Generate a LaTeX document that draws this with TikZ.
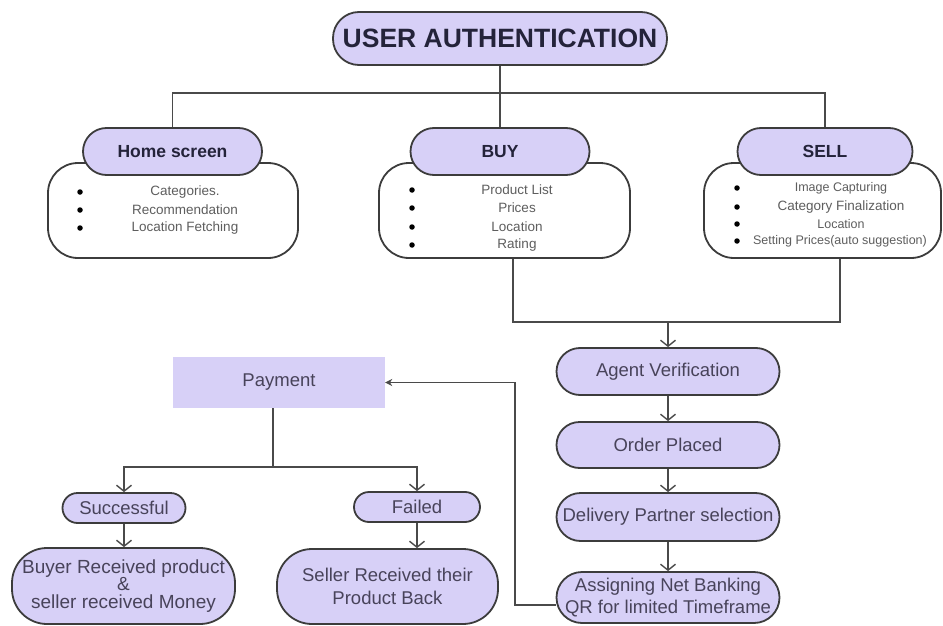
\documentclass[tikz,border=0pt]{standalone}
\usepackage{fontspec}
\setmainfont{Liberation Sans}
\usetikzlibrary{arrows.meta}

\definecolor{lav}{HTML}{D7D0F7}
\definecolor{edge}{HTML}{3C3C3C}
\definecolor{wire}{HTML}{4A4A4A}
\definecolor{headtxt}{HTML}{24233A}
\definecolor{steptxt}{HTML}{48435A}
\definecolor{itemtxt}{HTML}{5E5E5E}

\tikzset{
  pill/.style={draw=edge, line width=1.8pt, fill=lav, inner sep=0pt,
               align=center, rounded corners=#1},
  panel/.style={draw=edge, line width=1.8pt, fill=white, inner sep=0pt,
                rounded corners=30pt},
  plainbox/.style={fill=lav, inner sep=0pt},
  headfont/.style={font=\fontsize{17.5}{20}\selectfont\bfseries, text=headtxt},
  stepfont/.style={font=\fontsize{18.5}{22.5}\selectfont, text=steptxt},
  itemtxtstyle/.style={font=\fontsize{#1}{16}\selectfont, text=itemtxt, inner sep=0pt},
  bulletdot/.style={circle, fill=black, minimum size=5.5pt, inner sep=0pt},
  wireline/.style={draw=wire, line width=1.6pt},
  arr/.style={wireline, -{Straight Barb[length=6pt,width=15pt,line width=1.4pt]}},
  feedarr/.style={wireline, -{Stealth[length=7pt,width=7pt]}},
}

\begin{document}
\begin{tikzpicture}[x=1pt,y=-1pt]
\useasboundingbox (0,0) rectangle (943,626);

% ---------- top level ----------
\node[pill=26pt, minimum width=334pt, minimum height=53pt,
      font=\fontsize{26.5}{30}\selectfont\bfseries, text=headtxt]
  (auth) at (500,38.5) {USER AUTHENTICATION};

\coordinate (hub) at (500,93);

% ---------- three panels ----------
\node[panel, minimum width=250pt, minimum height=95pt] (homebody) at (173,210.5) {};
\node[panel, minimum width=251pt, minimum height=95pt] (buybody)  at (504.5,210.5) {};
\node[panel, minimum width=237pt, minimum height=95pt] (sellbody) at (822.5,210.5) {};

% panel contents
\node[bulletdot] (hb1) at (80,192) {};
\node[bulletdot] (hb2) at (80,210) {};
\node[bulletdot] (hb3) at (80,228) {};
\node[itemtxtstyle=13.5] (h1) at (185,192) {Categories.};
\node[itemtxtstyle=13.5] (h2) at (185,210) {Recommendation};
\node[itemtxtstyle=13.5] (h3) at (185,228) {Location Fetching};

\node[bulletdot] (bb1) at (412,190) {};
\node[bulletdot] (bb2) at (412,208) {};
\node[bulletdot] (bb3) at (412,227) {};
\node[bulletdot] (bb4) at (412,245) {};
\node[itemtxtstyle=13.5] (b1) at (517,190) {Product List};
\node[itemtxtstyle=13.5] (b2) at (517,208) {Prices};
\node[itemtxtstyle=13.5] (b3) at (517,227) {Location};
\node[itemtxtstyle=13.5] (b4) at (517,245) {Rating};

\node[bulletdot] (sb1) at (737,188) {};
\node[bulletdot] (sb2) at (737,207) {};
\node[bulletdot] (sb3) at (737,224) {};
\node[bulletdot] (sb4) at (737,241) {};
\node[itemtxtstyle=12.5] (s1) at (841,188) {Image Capturing};
\node[itemtxtstyle=13.5] (s2) at (841,207) {Category Finalization};
\node[itemtxtstyle=12.5] (s3) at (841,224) {Location};
\node[itemtxtstyle=12.5] (s4) at (840,241) {Setting Prices(auto suggestion)};

% panel titles
\node[pill=23.5pt, headfont, minimum width=179pt, minimum height=47pt] (home) at (172.5,151.5) {Home screen};
\node[pill=23.5pt, headfont, minimum width=179pt, minimum height=47pt] (buy)  at (500,151.5) {BUY};
\node[pill=23.5pt, headfont, minimum width=175pt, minimum height=47pt] (sell) at (825,151.5) {SELL};

% tree from the top node
\draw[wireline] (auth.south) -- (hub);
\draw[wireline] (home.north) |- (hub) -| (sell.north);
\draw[wireline] (hub) -- (buy.north);

% ---------- order pipeline ----------
\coordinate (merge) at (668,322);

\node[pill=23.5pt, stepfont, minimum width=223pt, minimum height=47pt] (agent)  at (668,371.5) {Agent Verification};
\node[pill=23pt,   stepfont, minimum width=223pt, minimum height=46pt] (order)  at (668,445) {Order Placed};
\node[pill=24pt,   stepfont, minimum width=223pt, minimum height=48pt] (deliv)  at (668,517) {Delivery Partner selection};
\node[pill=25.5pt, stepfont, minimum width=223pt, minimum height=51pt] (assign) at (668,597.5) {Assigning Net Banking\\QR for limited Timeframe};

\draw[wireline] ([xshift=8.5pt]buybody.south) |- (merge) -| ([xshift=17.5pt]sellbody.south);
\draw[arr] (merge) -- (agent.north);
\draw[arr] (agent.south) -- (order.north);
\draw[arr] (order.south) -- (deliv.north);
\draw[arr] (deliv.south) -- (assign.north);

% ---------- payment ----------
\node[plainbox, stepfont, minimum width=212pt, minimum height=51pt] (payment) at (279,382.5) {Payment};

\coordinate (fbturn) at (515,382.5);
\draw[feedarr] ([yshift=-7.5pt]assign.west) -| (fbturn) -- (payment.east);

\node[pill=15pt, stepfont, minimum width=123pt, minimum height=30pt] (succ) at (124,508) {Successful};
\node[pill=15pt, stepfont, minimum width=126pt, minimum height=30pt] (fail) at (417,507) {Failed};

\node[pill=35pt, stepfont, font=\fontsize{19}{17.5}\selectfont, minimum width=223pt, minimum height=76pt]
  (buyer) at (123.5,586) {Buyer Received product\\\&\\seller received Money};
\node[pill=35pt, stepfont, minimum width=221pt, minimum height=75pt]
  (seller) at (387.5,586.5) {Seller Received their\\Product Back};

\coordinate (split) at (273,467);
\draw[wireline] ([xshift=-6pt]payment.south) -- (split);
\draw[arr] (split) -| (succ.north);
\draw[arr] (split) -| (fail.north);
\draw[arr] (succ.south) -- (buyer.north -| succ.south);
\draw[arr] (fail.south) -- (seller.north -| fail.south);

\end{tikzpicture}
\end{document}
